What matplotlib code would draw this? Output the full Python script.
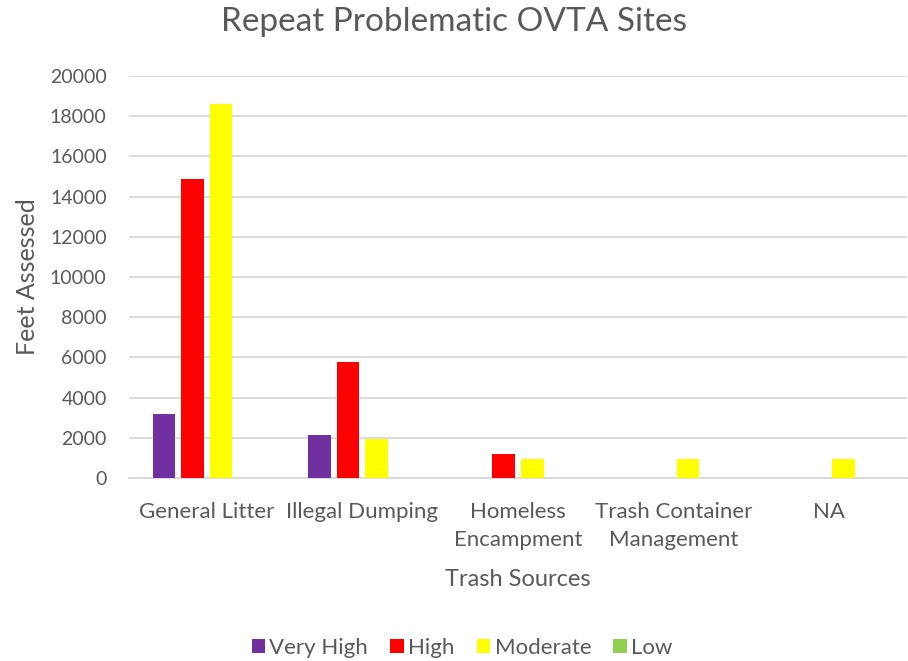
import numpy as np
from matplotlib import pyplot as plt

plt.rcParams['font.family'] = ['Lato', 'DejaVu Sans']

# ----------------------DATA---------------------------------------
categories = ["General Litter", "Illegal Dumping", "Homeless\nEncampment",
              "Trash Container\nManagement", "NA"]
series = ["Very High", "High", "Moderate", "Low"]
very_high = [3170, 2150, 0, 0, 0]
high = [14860, 5790, 1210, 0, 0]
moderate = [18620, 1925, 920, 920, 940]
low = [0, 0, 0, 0, 0]
colors = ["#7030A0", "#FF0000", "#FFFF00", "#92D050"]
grey = "#595959"

# ----------------------PLOT---------------------------------------
fig = plt.figure(figsize=(9.08, 6.61), dpi=100)
ax = fig.add_axes([0.142, 0.277, 0.857, 0.608])

x = np.arange(len(categories))
slot = 0.183
width = 0.145
for i, (name, vals) in enumerate(zip(series, [very_high, high, moderate, low])):
    ax.bar(x + (i - 1.5) * slot, vals, width, color=colors[i], label=name, zorder=3)

ax.set_xlim(-0.5, len(categories) - 0.5)
ax.set_ylim(0, 20000)
ax.set_yticks(np.arange(0, 20001, 2000))
ax.yaxis.grid(True, color="#D9D9D9", linewidth=1.3, zorder=0)
ax.set_xticks(x)
ax.set_xticklabels(categories, fontsize=16, color=grey, linespacing=1.5)
ax.tick_params(axis="y", labelsize=14, labelcolor=grey, length=0, pad=16)
ax.tick_params(axis="x", length=0, pad=17)
for s in ["top", "right", "left"]:
    ax.spines[s].set_visible(False)
ax.spines["bottom"].set_color("#D9D9D9")
ax.spines["bottom"].set_linewidth(1.3)

fig.text(0.5, 1 - 22 / 661, "Repeat Problematic OVTA Sites", fontsize=24,
         color=grey, ha="center", va="center")
ax.set_ylabel("Feet Assessed", fontsize=18, color=grey, labelpad=8)
ax.set_xlabel("Trash Sources", fontsize=17, color=grey, labelpad=14)

fig.legend(loc="center", bbox_to_anchor=(0.509, 1 - 648 / 661), ncol=4, frameon=False,
           fontsize=16, labelcolor=grey, handlelength=0.6, handleheight=0.6,
           handletextpad=0.2, columnspacing=1.0)

fig.savefig("out.png", dpi=100)
